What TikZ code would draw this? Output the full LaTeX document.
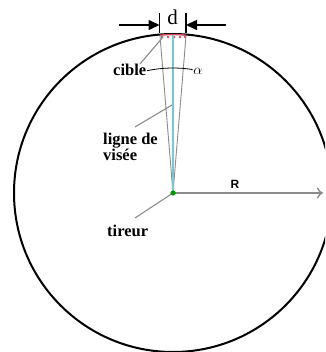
\documentclass[tikz,border=0pt]{standalone}
\usepackage{fontspec}
\setmainfont{Liberation Serif}
\newfontfamily\arialfont{Liberation Sans}
\usetikzlibrary{arrows.meta}
\definecolor{leadgray}{RGB}{140,140,140}
\definecolor{sightcyan}{RGB}{120,200,210}
\definecolor{targetred}{RGB}{225,70,90}
\tikzset{
  lbl/.style={font=\fontsize{16.5}{17}\selectfont\bfseries, inner sep=0pt},
  leader/.style={draw=leadgray, line width=1.1pt},
  dimarrow/.style={line width=1.5pt, -{Triangle[length=11pt,width=10pt]}},
}
\begin{document}
\begin{tikzpicture}[x=1pt,y=-1pt]
\useasboundingbox (0,0) rectangle (325,352);
\clip (0,0) rectangle (325,352);
\fill[white] (0,0) rectangle (325,352);
% circle
\coordinate (O) at (173,193);
\draw[line width=2pt] (O) circle[radius=159];
% target marks
\coordinate (TL) at (160,36);
\coordinate (TR) at (186,36);
\coordinate (TC) at (173,35);
\draw[targetred, line width=1.2pt] (O) ++(-94.7:158.5) arc[start angle=-94.7, end angle=-85.3, radius=158.5];
\foreach \xx in {162,168,174,180,185} \fill[targetred] (\xx,37) circle[radius=1.3];
% sight lines
\draw[leadgray, line width=0.9pt] (O) -- (TL);
\draw[leadgray, line width=0.9pt] (O) -- (TR);
\draw[sightcyan, line width=2pt] (O) -- (TC);
% alpha arc
\draw[line width=0.8pt] (O) ++(-102:125) arc[start angle=-102, end angle=-81, radius=125];
\node[inner sep=0pt, font=\fontsize{15}{15}\selectfont] (alpha) at (198,71) {$\alpha$};
% dimension d
\coordinate (BL) at (159.5,13);
\coordinate (BLb) at (159.5,33);
\coordinate (BR) at (186,13);
\coordinate (BRb) at (186,33);
\draw[line width=1.3pt] (BL) -- (BLb);
\draw[line width=1.3pt] (BR) -- (BRb);
\coordinate (AL) at (119,25);
\coordinate (ALe) at (159.5,25);
\coordinate (AR) at (226,25);
\coordinate (ARe) at (186,25);
\draw[dimarrow] (AL) -- (ALe);
\draw[dimarrow] (AR) -- (ARe);
\node[inner sep=0pt, font=\fontsize{21}{21}\selectfont] (d) at (172.5,17) {d};
% labels
\node[lbl, anchor=base west] (cible) at (113,76) {cible};
\draw[leader] (140,64) -- (163,37);
\node[lbl, anchor=north west, align=left] (ligne) at (103,133) {ligne de\\[-1pt]vis\'ee};
\draw[leader] (135,127) -- (172,105);
\node[lbl, anchor=base west] (tireur) at (107,236) {tireur};
\draw[leader] (135,218) -- (O);
% radius
\coordinate (Rend) at (323,193);
\draw[leadgray, line width=1.4pt, -{To[length=6pt,width=11pt]}] (O) -- (Rend);
\node[inner sep=0pt, font=\arialfont\fontsize{12}{12}\selectfont\bfseries] (R) at (235,184) {R};
% shooter
\fill[green!60!black] (O) circle[radius=2.6];
\end{tikzpicture}
\end{document}
